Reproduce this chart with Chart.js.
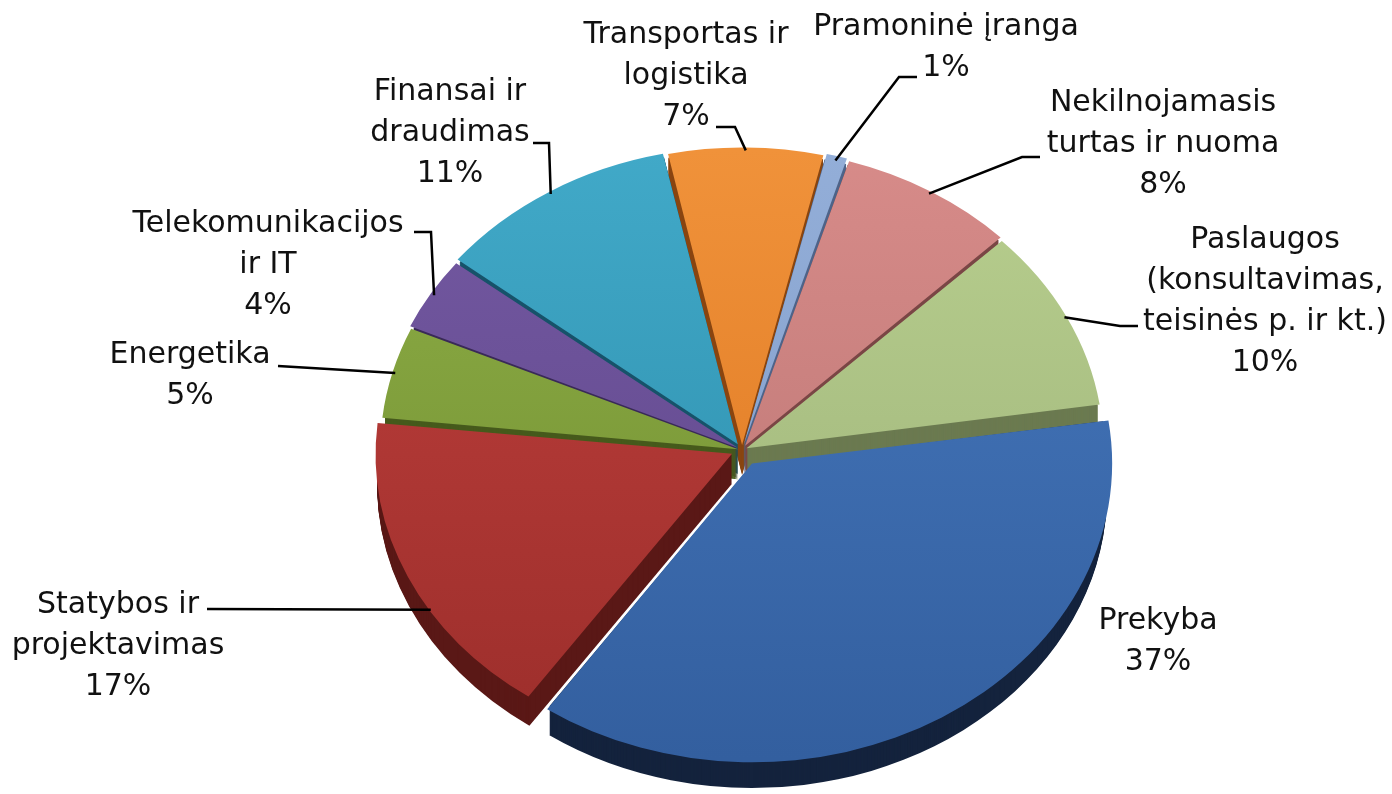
<!DOCTYPE html>
<html>
<head>
<meta charset="utf-8">
<script src="https://cdn.jsdelivr.net/npm/chart.js@4.4.1/dist/chart.umd.min.js"></script>
<style>
  html, body { margin: 0; padding: 0; background: #fff; }
  #wrap { width: 1392px; height: 794px; position: relative; }
</style>
</head>
<body>
<div id="wrap"><canvas id="c" width="1392" height="794"></canvas></div>
<script>
// data, clockwise from the top
var categories = [
    ['Transportas ir', 'logistika'],
    ['Pramoninė įranga'],
    ['Nekilnojamasis', 'turtas ir nuoma'],
    ['Paslaugos', '(konsultavimas,', 'teisinės p. ir kt.)'],
    ['Prekyba'],
    ['Statybos ir', 'projektavimas'],
    ['Energetika'],
    ['Telekomunikacijos', 'ir IT'],
    ['Finansai ir', 'draudimas']
]
var shares = [7, 1, 8, 10, 37, 17, 5, 4, 11]

// look
var topColors = ['#f0923a', '#93aed8', '#d78b89', '#b8cf8e', '#4678bd', '#c0403d', '#8eae46', '#7459a2', '#41a9c8']
var bottomColors = ['#dc751f', '#7f9bc8', '#b77371', '#9bb078', '#335f9f', '#9c2e2b', '#6f8c30', '#5d4588', '#2b8ba9']
var sideColors = ['#8a4610', '#4f6489', '#7a4645', '#6b7a50', '#14233d', '#5a1816', '#465a1c', '#3a2a58', '#17536a']
var offsets = [24, 24, 24, 20, 76, 44, 16, 20, 32]

var CX = 742, CY = 450, R = 355, TILT = 0.83, DEPTH = 30

// label layout: text centre x, first line y, anchor fraction along the arc, leader points
var labelPos = [[686, 35], [946, 27], [1163, 103], [1265, 240], [1158, 621], [118, 605], [190, 355], [268, 224], [450, 92]]
var anchorFrac = [0.5, 0.5, 0.5, 0.5, 0.5, 0.38, 0.5, 0.5, 0.5]
var leaders = [
    [[735, 127], [716, 127]],
    [[899, 77], [917, 77]],
    [[1022, 157], [1040, 157]],
    [[1120, 326], [1138, 326]],
    null,
    [[207, 609]],
    [[278, 366]],
    [[431, 232], [414, 232]],
    [[549, 143], [533, 143]]
]
var LINE_H = 41

function sliceGradient(context) {
    var chart = context.chart
    var i = context.dataIndex
    if (!chart.chartArea) return topColors[i]
    var g = chart.ctx.createLinearGradient(0, CY - R, 0, CY + R)
    g.addColorStop(0, topColors[i])
    g.addColorStop(1, bottomColors[i])
    return g
}

function slicePath(ctx, arc, i) {
    var half = (arc.startAngle + arc.endAngle) / 2
    var off = offsets[i] / 4
    var x = arc.x + Math.cos(half) * off
    var y = arc.y + Math.sin(half) * off
    ctx.beginPath()
    ctx.moveTo(x, y)
    ctx.arc(x, y, arc.outerRadius, arc.startAngle, arc.endAngle)
    ctx.closePath()
}

var pie3d = {
    id: 'pie3d',
    beforeDatasetsDraw(chart) {
        var ctx = chart.ctx
        var arcs = chart.getDatasetMeta(0).data
        var cx = arcs[0].x, cy = arcs[0].y
        // the side walls: the same slices, pushed down step by step
        for (var k = DEPTH; k >= 1; k--) {
            ctx.save()
            ctx.translate(cx, cy + k)
            ctx.scale(1, TILT)
            ctx.translate(-cx, -cy)
            arcs.forEach(function (arc, i) {
                slicePath(ctx, arc, i)
                ctx.fillStyle = sideColors[i]
                ctx.fill()
            })
            ctx.restore()
        }
        // squash the top faces into an ellipse
        ctx.save()
        ctx.translate(cx, cy)
        ctx.scale(1, TILT)
        ctx.translate(-cx, -cy)
    },
    afterDatasetsDraw(chart) {
        var ctx = chart.ctx
        ctx.restore()

        var arcs = chart.getDatasetMeta(0).data
        ctx.save()
        ctx.strokeStyle = '#000'
        ctx.lineWidth = 2.5
        ctx.lineJoin = 'miter'
        arcs.forEach(function (arc, i) {
            if (!leaders[i]) return
            var half = (arc.startAngle + arc.endAngle) / 2
            var a = arc.startAngle + (arc.endAngle - arc.startAngle) * anchorFrac[i]
            var off = offsets[i] / 4
            var px = arc.x + Math.cos(half) * off + Math.cos(a) * arc.outerRadius
            var py = arc.y + (Math.sin(half) * off + Math.sin(a) * arc.outerRadius) * TILT
            ctx.beginPath()
            ctx.moveTo(px, py)
            leaders[i].forEach(function (p) { ctx.lineTo(p[0], p[1]) })
            ctx.stroke()
        })

        ctx.fillStyle = '#111'
        ctx.font = '30px "DejaVu Sans"'
        ctx.textAlign = 'center'
        ctx.textBaseline = 'middle'
        categories.forEach(function (lines, i) {
            var all = lines.concat([shares[i] + '%'])
            all.forEach(function (t, j) {
                ctx.fillText(t, labelPos[i][0], labelPos[i][1] + j * LINE_H)
            })
        })
        ctx.restore()
    }
}

new Chart(document.getElementById('c'), {
    type: 'pie',
    data: {
        labels: categories,
        datasets: [{
            data: shares,
            backgroundColor: sliceGradient,
            borderWidth: 0,
            offset: offsets
        }]
    },
    options: {
        responsive: false,
        animation: false,
        rotation: -12,
        radius: R,
        layout: { padding: { left: 2 * CX - 1392, top: 2 * CY - 794, right: 0, bottom: 0 } },
        plugins: {
            legend: { display: false },
            tooltip: { enabled: false }
        }
    },
    plugins: [pie3d]
})
</script>
</body>
</html>
